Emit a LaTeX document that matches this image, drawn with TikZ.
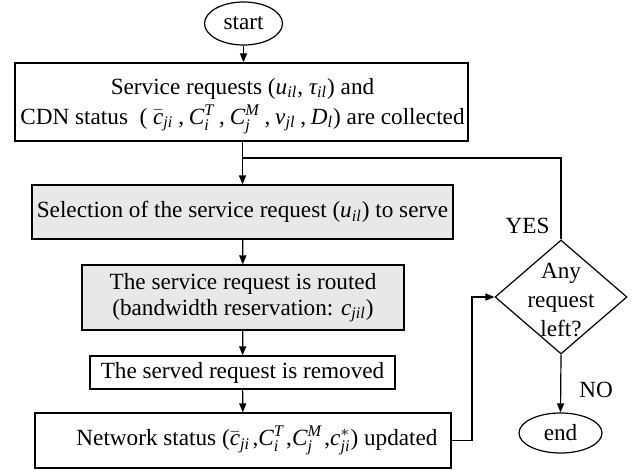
\documentclass[tikz,border=0pt]{standalone}
\usepackage{amsmath}
\usepackage{fontspec}
\setmainfont{Liberation Serif}
\usetikzlibrary{shapes.geometric,arrows.meta}
\newcommand{\vi}[1]{\textit{#1}}
\newcommand{\sep}{\hspace{2.4pt},\hspace{2.4pt}}

\begin{document}
\begin{tikzpicture}[x=0.5pt,y=0.5pt,yscale=-1,
  every node/.style={font=\fontsize{11.6}{13}\selectfont},
  proc/.style={draw,line width=0.6pt,rectangle,align=center,inner sep=0pt},
  shaded/.style={proc,fill=black!9},
  term/.style={draw,line width=0.6pt,ellipse,inner sep=0pt},
  decision/.style={draw,line width=0.6pt,diamond,inner sep=0pt,minimum width=66pt,minimum height=57pt},
  flow/.style={line width=0.6pt,-{Triangle[length=4.5pt,width=3.5pt]}},
  wire/.style={line width=0.6pt}]
\useasboundingbox (0,0) rectangle (635,470);

% Text Node
\node[term,minimum width=39pt,minimum height=21.5pt] (start) at (243.5,23.5) {start};
% Text Node
\node[proc,minimum width=226.5pt,minimum height=39pt] (collect) at (241.5,102) {};
\node[align=center,inner sep=0pt,font=\fontsize{11.6}{15}\selectfont] (collecttext) at (242.5,106)
  {Service requests ($\vi{u}_{\vi{il}}$, $\vi{τ}_{\vi{il}}$) and\\
   CDN status~ ( $\bar{\vi{c}}_{\vi{ji}}$\sep$\vi{C}_{\vi{i}}^{\vi{T}}$\sep$\vi{C}_{\vi{j}}^{\vi{M}}$\sep$\vi{v}_{\vi{jl}}$\sep$\vi{D}_{\vi{l}}$) are collected};
% Text Node
\node[shaded,minimum width=210.5pt,minimum height=27pt] (select) at (242.5,212)
  {Selection of the service request ($\vi{u}_{\vi{il}}$) to serve};
% Text Node
\node[shaded,minimum width=161pt,minimum height=32.5pt] (route) at (243,297.5)
  {The service request is routed\\(bandwidth reservation: $\vi{c}_{\vi{jil}}$)};
% Text Node
\node[proc,minimum width=152.5pt,minimum height=16.5pt] (remove) at (242.5,372.5)
  {The served request is removed};
% Text Node
\node[proc,minimum width=208pt,minimum height=27.5pt] (update) at (243,440.5)
  {\hspace*{14pt}Network status ($\bar{\vi{c}}_{\vi{ji}}$\hspace{1.2pt},$\vi{C}_{\vi{i}}^{\vi{T}}$\hspace{1.2pt},$\vi{C}_{\vi{j}}^{\vi{M}}$\hspace{1.2pt},$\vi{c}_{\vi{ji}}^{*}$) updated};
% Text Node
\node[decision] (left) at (561,297) {};
\node[align=center,font=\fontsize{11.6}{14.5}\selectfont] (lefttext) at (561,300) {Any\\request\\left?};
% Text Node
\node[term,minimum width=41.5pt,minimum height=20pt] (end) at (560.5,433) {end};
% Text Node
\node (yes) at (527.5,226) {YES};
% Text Node
\node (no) at (596,390) {NO};

\coordinate (join) at (242.5,158);
\coordinate (turn) at (472,297);

% Connection
\draw[flow] (start) -- (start |- collect.north);
% Connection
\draw[flow] (join |- collect.south) -- (select);
% Connection
\draw[flow] (select) -- (route);
% Connection
\draw[flow] (route) -- (remove);
% Connection
\draw[flow] (remove) -- (update);
% Connection
\draw[flow] (update.east) -| (turn) -- (left.west);
% Connection
\draw[wire] (left.north) |- (join);
% Connection
\draw[flow] (left.south) -- (end.north);

\end{tikzpicture}
\end{document}
